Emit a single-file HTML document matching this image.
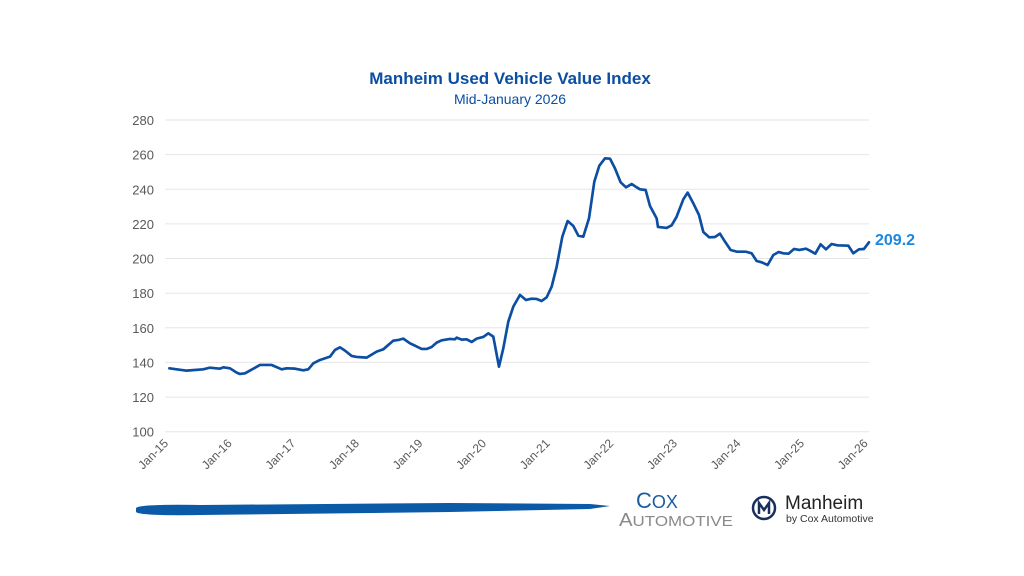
<!DOCTYPE html>
<html><head><meta charset="utf-8"><style>
html,body{margin:0;padding:0;background:#fff;}
svg{display:block;font-family:"Liberation Sans",Arial,sans-serif;}
</style></head><body>
<svg width="1024" height="576" viewBox="0 0 1024 576" xmlns="http://www.w3.org/2000/svg">
<rect width="1024" height="576" fill="#fff"/>
<text x="510" y="84" text-anchor="middle" font-size="17" font-weight="bold" fill="#0b4ea2">Manheim Used Vehicle Value Index</text>
<text x="510" y="104" text-anchor="middle" font-size="14" fill="#0b4ea2">Mid-January 2026</text>
<g stroke="#e6e6e6" stroke-width="1">
<line x1="165" x2="869" y1="120" y2="120"/><line x1="165" x2="869" y1="154.6" y2="154.6"/>
<line x1="165" x2="869" y1="189.3" y2="189.3"/><line x1="165" x2="869" y1="223.9" y2="223.9"/>
<line x1="165" x2="869" y1="258.5" y2="258.5"/><line x1="165" x2="869" y1="293.2" y2="293.2"/>
<line x1="165" x2="869" y1="327.8" y2="327.8"/><line x1="165" x2="869" y1="362.4" y2="362.4"/>
<line x1="165" x2="869" y1="397.1" y2="397.1"/><line x1="165" x2="869" y1="431.7" y2="431.7"/>
</g>
<g font-size="13" fill="#595959" text-anchor="end">
<text x="154" y="125">280</text><text x="154" y="159.6">260</text><text x="154" y="194.3">240</text>
<text x="154" y="228.9">220</text><text x="154" y="263.5">200</text><text x="154" y="298.2">180</text>
<text x="154" y="332.8">160</text><text x="154" y="367.4">140</text><text x="154" y="402.1">120</text>
<text x="154" y="436.7">100</text>
</g>
<g font-size="12" fill="#595959" text-anchor="end">
<text transform="translate(169,444) rotate(-45)">Jan-15</text>
<text transform="translate(232.6,444) rotate(-45)">Jan-16</text>
<text transform="translate(296.2,444) rotate(-45)">Jan-17</text>
<text transform="translate(359.8,444) rotate(-45)">Jan-18</text>
<text transform="translate(423.4,444) rotate(-45)">Jan-19</text>
<text transform="translate(487,444) rotate(-45)">Jan-20</text>
<text transform="translate(550.6,444) rotate(-45)">Jan-21</text>
<text transform="translate(614.2,444) rotate(-45)">Jan-22</text>
<text transform="translate(677.8,444) rotate(-45)">Jan-23</text>
<text transform="translate(741.4,444) rotate(-45)">Jan-24</text>
<text transform="translate(805,444) rotate(-45)">Jan-25</text>
<text transform="translate(868.6,444) rotate(-45)">Jan-26</text>
</g>
<g fill="none" stroke="#0b4ea2" stroke-width="8" stroke-linejoin="round" stroke-linecap="round">
<polyline transform="translate(120,100) scale(0.3333)" points="148,805 200,812 250,808 270,803 300,806 310,802 330,805 350,818 360,822 375,820 420,795 455,795 485,808 500,805 525,806 550,811 565,808 580,790 600,780 630,770 645,750 660,742 675,752 695,768 710,771 740,773 770,755 790,748 820,722 835,720 850,716 870,730 885,737 905,747 920,747 935,741 950,728 965,721 990,717 1005,718 1010,713 1025,719 1040,718 1055,726 1070,716 1090,711 1105,700 1120,710 1137,800 1150,745 1165,665 1180,620 1200,585"/>
<polyline transform="translate(500,100) scale(0.3333)" points="60,585 78,600 95,596 110,597 125,603 140,592 155,560 170,500 187,410 203,363 220,378 235,407 250,410 267,355 283,245 298,197 315,175 330,176 345,205 362,247 378,262 395,252 410,262 420,268 437,270 450,318 470,355 474,381 500,384 515,376 530,350 550,298 563,278 580,310 597,345 610,396 628,412 645,411 660,401 675,425 692,450 710,455 737,455 755,460 770,483 785,487 803,495 820,465 836,456 850,460 866,461 882,447 898,450 918,446 930,452 946,461 962,433 978,448 995,432 1012,436 1045,437 1060,460 1077,448 1092,447 1107,427"/>
</g>
<text x="875" y="245" font-size="16" font-weight="bold" fill="#1a88e0">209.2</text>
<path d="M136,508 Q140,504 200,505 L450,503 L590,504 L610,506 L590,509 L450,512 L200,515 Q140,516 136,512 Z" fill="#0a5aa8"/>
<text x="636" y="508" font-size="22" fill="#1b5c9c">C<tspan font-size="18">OX</tspan></text>
<text x="619" y="526" font-size="18" fill="#8a8a8a" textLength="114" lengthAdjust="spacingAndGlyphs">A<tspan font-size="15">UTOMOTIVE</tspan></text>
<circle cx="764" cy="508" r="11" fill="none" stroke="#1a2f5e" stroke-width="2.5"/>
<path d="M759,514 L759,503 L764,510 L769,503 L769,514" fill="none" stroke="#1a2f5e" stroke-width="2.5"/>
<text x="785" y="509" font-size="19" fill="#222">Manheim</text>
<text x="786" y="522" font-size="10.5" fill="#333">by Cox Automotive</text>
</svg>
</body></html>
